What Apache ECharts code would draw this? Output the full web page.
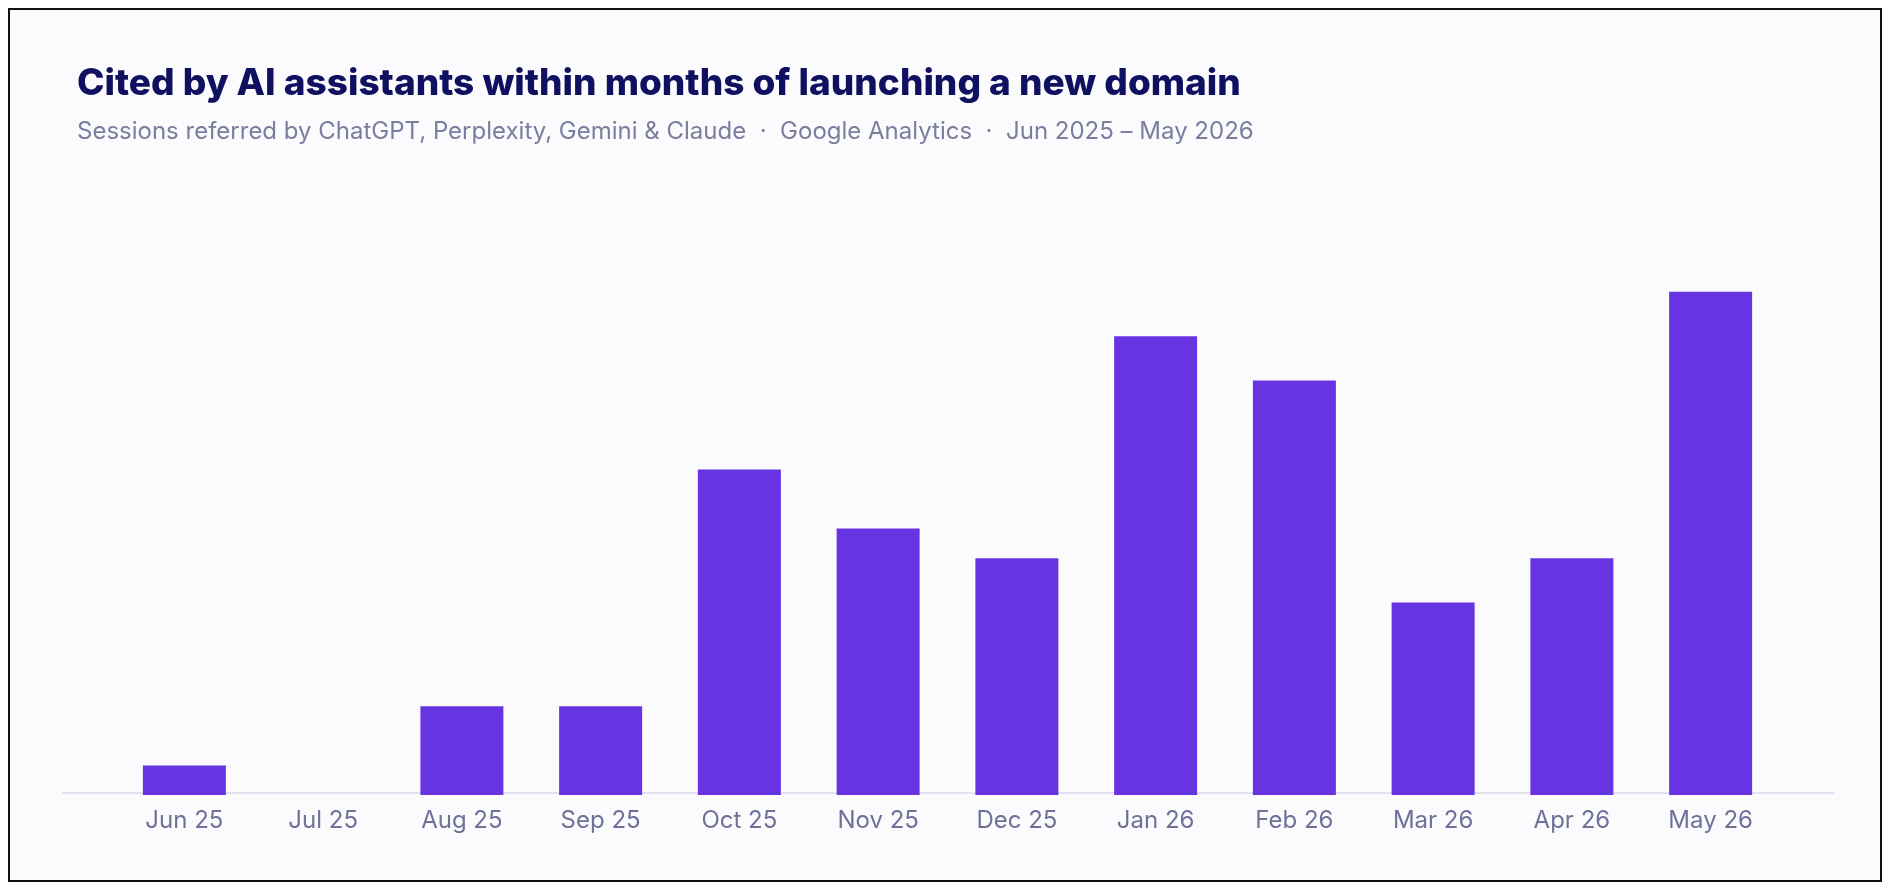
<!DOCTYPE html>
<html>
<head>
<meta charset="utf-8">
<script src="https://cdn.jsdelivr.net/npm/echarts@6/dist/echarts.min.js"></script>
<style>
  html, body { margin: 0; padding: 0; background: #fff; }
  #frame { position: absolute; left: 8px; top: 8px; width: 1870px; height: 870px; border: 2px solid #111; background: #fbfbfe; }
  #chart { width: 100%; height: 100%; }
</style>
</head>
<body>
<div id="frame"><div id="chart"></div></div>
<script>
var months = ['Jun 25', 'Jul 25', 'Aug 25', 'Sep 25', 'Oct 25', 'Nov 25', 'Dec 25', 'Jan 26', 'Feb 26', 'Mar 26', 'Apr 26', 'May 26'];
var sessions = [1, 0, 3, 3, 11, 9, 8, 15.5, 14, 6.5, 8, 17];

var chart = echarts.init(document.getElementById('chart'));
var option = {
  backgroundColor: '#fbfbfe',
  title: {
    text: 'Cited by AI assistants within months of launching a new domain',
    subtext: 'Sessions referred by ChatGPT, Perplexity, Gemini & Claude  ·  Google Analytics  ·  Jun 2025 – May 2026',
    left: 62,
    top: 50,
    itemGap: 18,
    textStyle: { fontFamily: 'Inter', fontSize: 37, fontWeight: 800, color: '#0f1160' },
    subtextStyle: { fontFamily: 'Inter', fontSize: 24, color: '#7a7e9e' }
  },
  grid: { left: 105, right: 100, top: 193, bottom: 85 },
  xAxis: {
    type: 'category',
    data: months,
    axisLine: { show: false },
    axisTick: { show: false },
    axisLabel: { fontFamily: 'Inter', fontSize: 24, color: '#6e7198', margin: 14 }
  },
  yAxis: { type: 'value', min: 0, max: 20, show: false, splitLine: { show: false } },
  graphic: [{
    type: 'line',
    shape: { x1: 52, y1: 783, x2: 1825, y2: 783 },
    style: { stroke: '#e3e1f2', lineWidth: 2 },
    z: 0
  }],
  series: [{
    type: 'bar',
    data: sessions,
    barWidth: 83,
    itemStyle: { color: '#6634e0' }
  }]
};
chart.setOption(option);
</script>
</body>
</html>
